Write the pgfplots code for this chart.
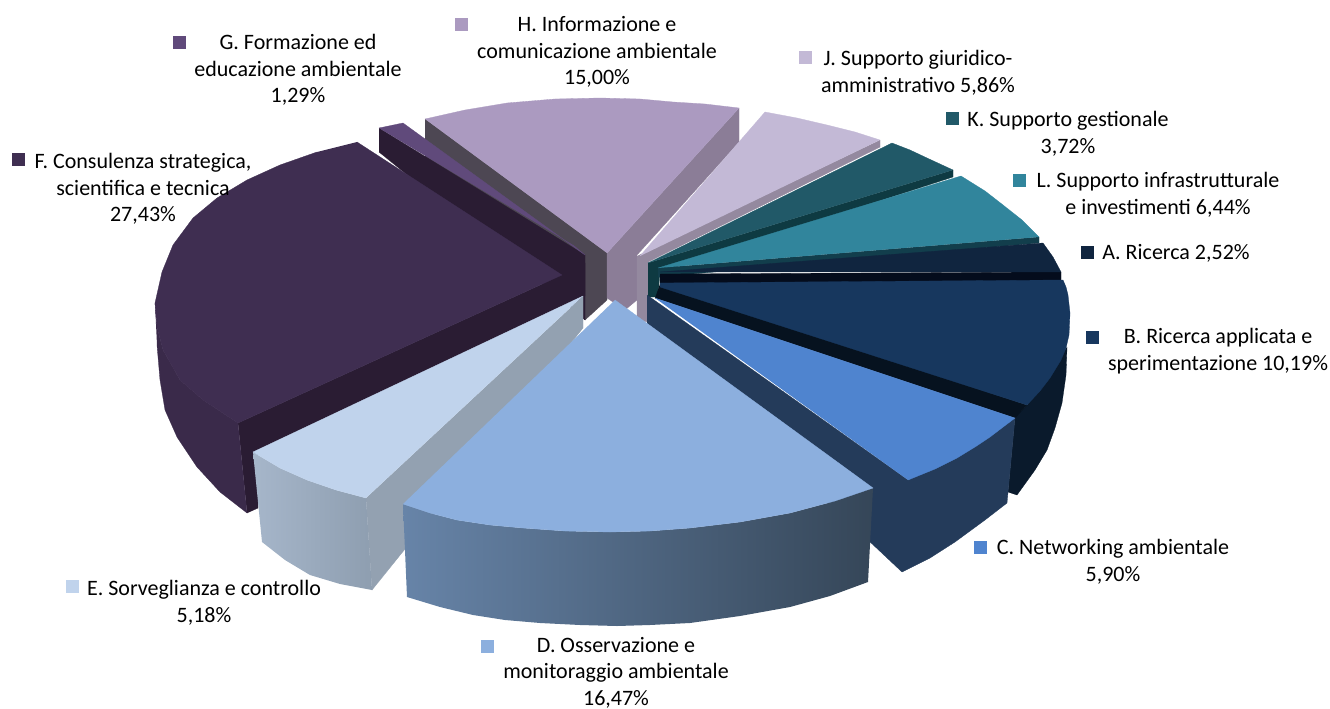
\documentclass[border=0pt]{standalone}
\usepackage{pgfplots}
\pgfplotsset{compat=1.18}
\usepackage{fontspec}
\setmainfont{Carlito}

\definecolor{Atop}{HTML}{10253F}
\definecolor{Aside}{HTML}{040C1C}
\definecolor{Btop}{HTML}{17375E}
\definecolor{Bside}{HTML}{06121F}
\definecolor{Bout}{HTML}{0A1A2C}
\definecolor{Ctop}{HTML}{4F84CF}
\definecolor{Cside}{HTML}{243B5A}
\definecolor{Dtop}{HTML}{8CAFDE}
\definecolor{Dl}{HTML}{6784A8}
\definecolor{Dr}{HTML}{354658}
\definecolor{Etop}{HTML}{C0D3EC}
\definecolor{Eside}{HTML}{93A1B1}
\definecolor{El}{HTML}{A6B6CA}
\definecolor{Er}{HTML}{8E9EB0}
\definecolor{Ftop}{HTML}{3F2E51}
\definecolor{Fside}{HTML}{2A1C33}
\definecolor{Fout}{HTML}{3A2A4A}
\definecolor{Gtop}{HTML}{604A7B}
\definecolor{Htop}{HTML}{AB9AC0}
\definecolor{Hl}{HTML}{4D4753}
\definecolor{Hr}{HTML}{8B7D97}
\definecolor{Jtop}{HTML}{C3B9D6}
\definecolor{Jside}{HTML}{94899F}
\definecolor{Ktop}{HTML}{215968}
\definecolor{Kside}{HTML}{0E3A42}
\definecolor{Ltop}{HTML}{31859C}
\definecolor{Lside}{HTML}{123E4C}

\newcommand{\poly}[2]{\addplot[fill=#1,draw=#1,line width=0.3pt] coordinates {#2};}
\newcommand{\grad}[3]{\addplot[left color=#1,right color=#2,draw=none] coordinates {#3};}
\newcommand{\key}[2]{\addplot[only marks,mark=square*,mark size=6pt,color=#1] coordinates {#2};}
\tikzset{lbl/.style={font=\fontsize{22}{26.5}\selectfont, align=center, inner sep=0pt, text=black}}

\begin{document}
\begin{tikzpicture}
\begin{axis}[
    scale only axis,
    width=1330pt, height=709pt,
    xmin=0, xmax=1330, ymin=0, ymax=709,
    y dir=reverse,
    hide axis,
    clip=false,
]
% keeps the page at the full frame
\addplot[draw=none] coordinates {(0,0)(1330,709)};
% H
\poly{Hl}{(425,119)(607,253)(607,300)(585,320)(425,167)}
\poly{Hr}{(739,108)(739,142)(637,255)(637,300)(625,310)(607,298)(607,253)}
\poly{Htop}{(425,119)(465,110)(507,103)(555,99)(600,98)(640,99)(673,102)(705,104)(739,108)(607,253)}
% J
\poly{Jside}{(880,140)(880,147)(648,262)(648,322)(637,320)(637,256)}
\poly{Jtop}{(640,256)(765,112)(797,118)(827,125)(855,132)(880,140)}
% K
\poly{Kside}{(648,263)(953,170)(953,177)(660,272)(658,297)(648,297)}
\poly{Ktop}{(648,263)(892,143)(910,150)(927,158)(953,170)}
% L
\poly{Lside}{(658,268)(1039,237)(1039,243)(658,277)}
\poly{Ltop}{(658,268)(961,176)(985,191)(1003,205)(1022,220)(1039,237)}
% A
\poly{Aside}{(660,274)(1061,272)(1061,281)(660,284)}
\poly{Atop}{(660,272)(1043,243)(1053,257)(1061,272)}
% B
\poly{Bout}{(1067,347)(1066,375)(1062,403)(1055,428)(1047,450)(1035,470)(1017,495)(1008,492)(1015,417)(1027,405)}
\poly{Bside}{(660,284)(1027,405)(1015,418)(655,298)}
\poly{Btop}{(660,283)(1063,280)(1066,287)(1068,295)(1070,313)(1069,335)(1066,348)(1061,360)(1050,378)(1040,391)(1027,405)(660,287)}
% C
\poly{Cside}{(647,295)(908,480)(1015,418)(1007,503)(985,520)(955,542)(930,558)(902,572)(868,540)(647,330)}
\poly{Ctop}{(655,298)(1015,418)(990,437)(975,447)(957,458)(935,469)(908,480)}
% G
\poly{Fside}{(379,128)(585,255)(585,320)(562,300)(379,152)}
\poly{Gtop}{(379,128)(403,123)(585,255)(573,245)}
% F
\poly{Fside}{(238,423)(562,275)(585,263)(585,296)(258,450)(258,508)(247,513)}
\poly{Fout}{(155,303)(157,327)(163,350)(180,380)(203,400)(238,423)(247,513)(220,492)(197,467)(177,437)(165,410)(160,380)(157,345)}
\poly{Ftop}{(357,142)(562,275)(238,423)(203,400)(180,380)(163,350)(157,327)(155,303)(162,272)(173,245)(193,218)(217,198)(247,180)(280,165)(317,152)}
% E
\poly{Eside}{(583,296)(583,328)(372,590)(366,498)}
\grad{El}{Er}{(253,452)(280,468)(307,480)(336,490)(366,498)(372,590)(340,584)(310,575)(285,560)(262,542)}
\poly{Etop}{(583,296)(253,452)(280,468)(307,480)(336,490)(366,498)}
% D
\grad{Dl}{Dr}{(403,504)(430,513)(457,520)(490,525)(523,528)(565,531)(610,532)(650,531)(690,528)(740,522)(790,513)(835,501)(873,488)(868,582)(830,596)(790,607)(740,616)(690,623)(650,625)(617,626)(580,625)(540,623)(505,620)(473,615)(440,607)(407,597)}
\poly{Dtop}{(615,300)(873,488)(835,501)(790,513)(740,522)(690,528)(650,531)(610,532)(565,531)(523,528)(490,525)(457,520)(430,513)(403,504)}

% legend keys
\key{Gtop}{(179,42)}
\key{Htop}{(461,24)}
\key{Jtop}{(805,57)}
\key{Ktop}{(952,118)}
\key{Ltop}{(1019,180)}
\key{Atop}{(1087,252)}
\key{Btop}{(1092,337)}
\key{Ctop}{(980,547)}
\key{Dtop}{(487,646)}
\key{Etop}{(72,586)}
\key{Ftop}{(18,159)}

\node[lbl] at (axis cs:298,70) {G. Formazione ed\\educazione ambientale\\1,29\%};
\node[lbl] at (axis cs:597,52) {H. Informazione e\\comunicazione ambientale\\15,00\%};
\node[lbl] at (axis cs:143,189) {F. Consulenza strategica,\\scientifica e tecnica\\27,43\%};
\node[lbl] at (axis cs:918,73) {J. Supporto giuridico-\\amministrativo 5,86\%};
\node[lbl] at (axis cs:1068,134) {K. Supporto gestionale\\3,72\%};
\node[lbl] at (axis cs:1158,195) {L. Supporto infrastrutturale\\e investimenti 6,44\%};
\node[lbl] at (axis cs:1176,253) {A. Ricerca 2,52\%};
\node[lbl] at (axis cs:1218,351) {B. Ricerca applicata e\\sperimentazione 10,19\%};
\node[lbl] at (axis cs:1113,562) {C. Networking ambientale\\5,90\%};
\node[lbl] at (axis cs:616,672.5) {D. Osservazione e\\monitoraggio ambientale\\16,47\%};
\node[lbl] at (axis cs:204,603) {E. Sorveglianza e controllo\\5,18\%};
\end{axis}
\end{tikzpicture}
\end{document}
